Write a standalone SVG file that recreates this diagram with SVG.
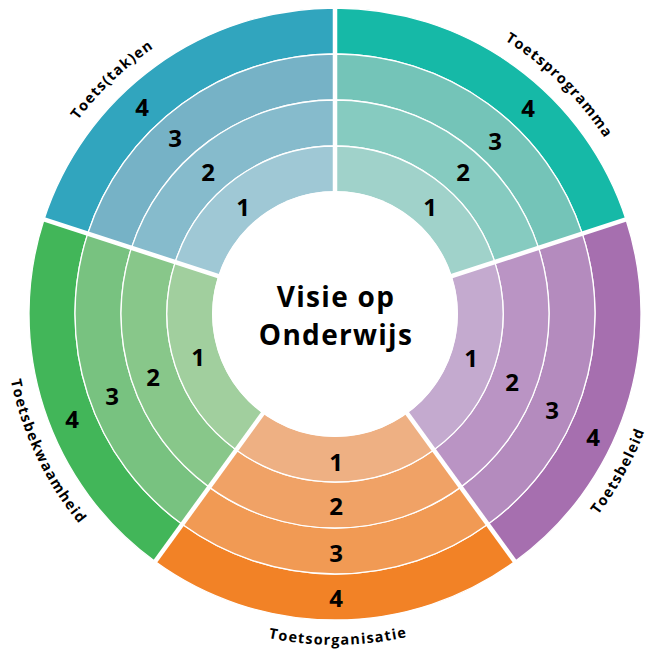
<svg xmlns="http://www.w3.org/2000/svg" width="650" height="654" viewBox="0 0 650 654">
<style>
.ring{stroke:#fff;stroke-width:1.3}
.num{font-family:"Open Sans","Liberation Sans",sans-serif;font-weight:700;font-size:24px;fill:#000;text-anchor:middle}
.lbl{font-family:"Open Sans","Liberation Sans",sans-serif;font-weight:700;font-size:14.5px;fill:#000;letter-spacing:1.2px}
.ctr{font-family:"Open Sans","Liberation Sans",sans-serif;font-weight:700;font-size:28px;fill:#000;text-anchor:middle;letter-spacing:1.3px}
.gap{stroke:#fff;stroke-width:4.5;fill:none}
</style>
<defs>
<path id="arcTop" d="M 13,314 A 322 322 0 0 1 657,314"/>
<path id="arcBot" d="M 4,314 A 331 331 0 0 0 666,314"/>
</defs>
<rect width="650" height="654" fill="#fff"/>
<g id="toetstaken">
<path class="ring" fill="#31A5BE" d="M 43.98,219.44 A 306 306 0 0 1 335,8 L 335,54 A 260 260 0 0 0 87.73,233.66 Z"/>
<path class="ring" fill="#76B2C6" d="M 87.73,233.66 A 260 260 0 0 1 335,54 L 335,100 A 214 214 0 0 0 131.47,247.87 Z"/>
<path class="ring" fill="#86BBCC" d="M 131.47,247.87 A 214 214 0 0 1 335,100 L 335,146 A 168 168 0 0 0 175.22,262.09 Z"/>
<path class="ring" fill="#9FC8D5" d="M 175.22,262.09 A 168 168 0 0 1 335,146 L 335,192 A 122 122 0 0 0 218.97,276.30 Z"/>
<text class="num" x="243" y="215.5">1</text>
<text class="num" x="208" y="180.5">2</text>
<text class="num" x="175" y="146.5">3</text>
<text class="num" x="142" y="115.5">4</text>
<text class="lbl" text-anchor="middle"><textPath href="#arcTop" startOffset="25.8%">Toets(tak)en</textPath></text>
</g>
<g id="toetsprogramma">
<path class="ring" fill="#16B9A7" d="M 335,8 A 306 306 0 0 1 626.02,219.44 L 582.27,233.66 A 260 260 0 0 0 335,54 Z"/>
<path class="ring" fill="#74C4B8" d="M 335,54 A 260 260 0 0 1 582.27,233.66 L 538.53,247.87 A 214 214 0 0 0 335,100 Z"/>
<path class="ring" fill="#86CBC0" d="M 335,100 A 214 214 0 0 1 538.53,247.87 L 494.78,262.09 A 168 168 0 0 0 335,146 Z"/>
<path class="ring" fill="#A0D2CA" d="M 335,146 A 168 168 0 0 1 494.78,262.09 L 451.03,276.30 A 122 122 0 0 0 335,192 Z"/>
<text class="num" x="430" y="215.5">1</text>
<text class="num" x="463" y="180.5">2</text>
<text class="num" x="495" y="149.5">3</text>
<text class="num" x="528" y="116.5">4</text>
<text class="lbl" text-anchor="middle"><textPath href="#arcTop" startOffset="74.7%">Toetsprogramma</textPath></text>
</g>
<g id="toetsbeleid">
<path class="ring" fill="#A66FAF" d="M 626.02,219.44 A 306 306 0 0 1 514.86,561.56 L 487.82,524.34 A 260 260 0 0 0 582.27,233.66 Z"/>
<path class="ring" fill="#B48BBE" d="M 582.27,233.66 A 260 260 0 0 1 487.82,524.34 L 460.79,487.13 A 214 214 0 0 0 538.53,247.87 Z"/>
<path class="ring" fill="#BA94C4" d="M 538.53,247.87 A 214 214 0 0 1 460.79,487.13 L 433.75,449.91 A 168 168 0 0 0 494.78,262.09 Z"/>
<path class="ring" fill="#C4AACF" d="M 494.78,262.09 A 168 168 0 0 1 433.75,449.91 L 406.71,412.70 A 122 122 0 0 0 451.03,276.30 Z"/>
<text class="num" x="471" y="366.5">1</text>
<text class="num" x="512" y="390.5">2</text>
<text class="num" x="552" y="418.5">3</text>
<text class="num" x="593" y="445.5">4</text>
<text class="lbl" text-anchor="middle"><textPath href="#arcBot" startOffset="83.9%">Toetsbeleid</textPath></text>
</g>
<g id="toetsorganisatie">
<path class="ring" fill="#F28226" d="M 514.86,561.56 A 306 306 0 0 1 155.14,561.56 L 182.18,524.34 A 260 260 0 0 0 487.82,524.34 Z"/>
<path class="ring" fill="#F19A54" d="M 487.82,524.34 A 260 260 0 0 1 182.18,524.34 L 209.21,487.13 A 214 214 0 0 0 460.79,487.13 Z"/>
<path class="ring" fill="#F0A266" d="M 460.79,487.13 A 214 214 0 0 1 209.21,487.13 L 236.25,449.91 A 168 168 0 0 0 433.75,449.91 Z"/>
<path class="ring" fill="#EEB083" d="M 433.75,449.91 A 168 168 0 0 1 236.25,449.91 L 263.29,412.70 A 122 122 0 0 0 406.71,412.70 Z"/>
<text class="num" x="336" y="470.5">1</text>
<text class="num" x="336" y="514.5">2</text>
<text class="num" x="336" y="561.5">3</text>
<text class="num" x="336" y="606.5">4</text>
<text class="lbl" text-anchor="middle"><textPath href="#arcBot" startOffset="50.3%">Toetsorganisatie</textPath></text>
</g>
<g id="toetsbekwaamheid">
<path class="ring" fill="#42B659" d="M 155.14,561.56 A 306 306 0 0 1 43.98,219.44 L 87.73,233.66 A 260 260 0 0 0 182.18,524.34 Z"/>
<path class="ring" fill="#78C280" d="M 182.18,524.34 A 260 260 0 0 1 87.73,233.66 L 131.47,247.87 A 214 214 0 0 0 209.21,487.13 Z"/>
<path class="ring" fill="#88C78A" d="M 209.21,487.13 A 214 214 0 0 1 131.47,247.87 L 175.22,262.09 A 168 168 0 0 0 236.25,449.91 Z"/>
<path class="ring" fill="#A1CF9E" d="M 236.25,449.91 A 168 168 0 0 1 175.22,262.09 L 218.97,276.30 A 122 122 0 0 0 263.29,412.70 Z"/>
<text class="num" x="198" y="366">1</text>
<text class="num" x="153" y="386">2</text>
<text class="num" x="112" y="405">3</text>
<text class="num" x="72" y="428">4</text>
<text class="lbl" text-anchor="middle"><textPath href="#arcBot" startOffset="14.2%">Toetsbekwaamheid</textPath></text>
</g>
<g id="connectors">
<line class="gap" x1="335" y1="314" x2="335" y2="4"/>
<line class="gap" x1="335" y1="314" x2="629.83" y2="218.21"/>
<line class="gap" x1="335" y1="314" x2="517.21" y2="564.80"/>
<line class="gap" x1="335" y1="314" x2="152.79" y2="564.80"/>
<line class="gap" x1="335" y1="314" x2="40.17" y2="218.21"/>
</g>
<g id="visie">
<circle cx="335" cy="314" r="123" fill="#fff"/>
<text class="ctr" x="336" y="307">Visie op</text>
<text class="ctr" x="336" y="345">Onderwijs</text>
</g>
</svg>
